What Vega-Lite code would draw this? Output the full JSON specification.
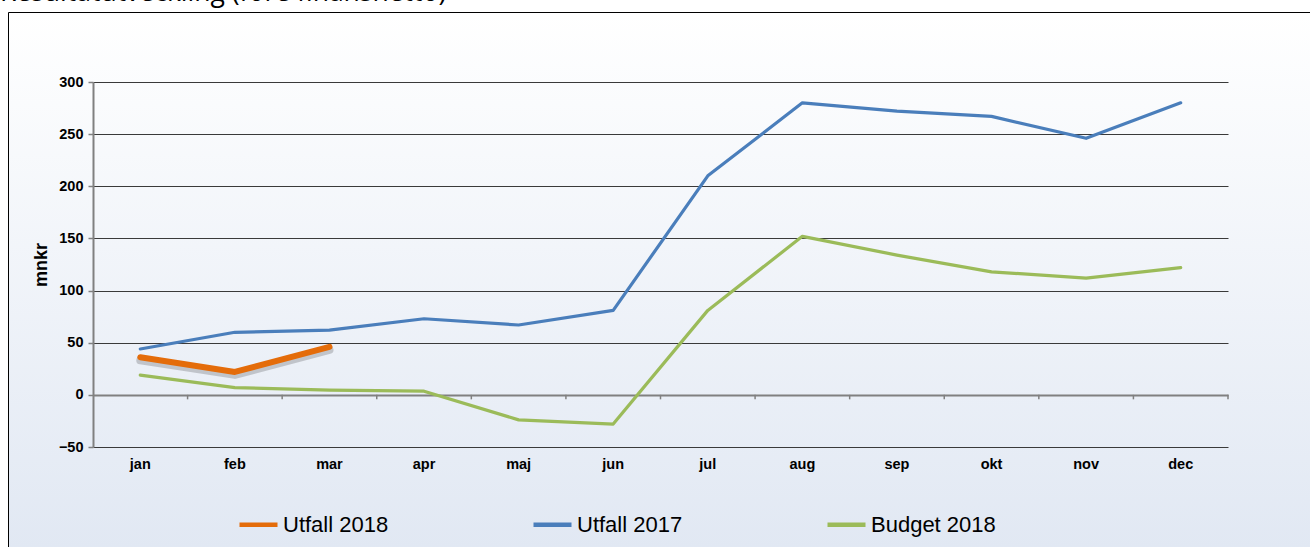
{
  "$schema": "https://vega.github.io/schema/vega-lite/v6.json",
  "autosize": {"type": "none"},
  "width": 1304,
  "height": 537,
  "padding": {"left": 8, "top": 12, "right": 0, "bottom": 0},
  "background": "#ffffff",
  "title": {
    "text": "Resultatutveckling (före finansnetto)",
    "anchor": "start",
    "frame": "group",
    "baseline": "alphabetic",
    "offset": 0,
    "dy": 15,
    "dx": -8,
    "font": "Open Sans",
    "fontSize": 26.5,
    "fontWeight": "normal",
    "color": "#000000"
  },
  "config": {
    "view": {
      "fill": {
        "gradient": "linear",
        "x1": 0, "y1": 0, "x2": 0, "y2": 1,
        "stops": [
          {"offset": 0, "color": "#ffffff"},
          {"offset": 1, "color": "#e1e8f3"}
        ]
      },
      "stroke": "#000000",
      "strokeWidth": 1
    },
    "axis": {
      "labelFont": "Liberation Sans",
      "labelFontWeight": "bold",
      "labelFontSize": 14.5,
      "labelColor": "#000000"
    }
  },
  "datasets": {
    "rows": [
      {"month": "jan", "series": "Utfall 2017", "value": 44},
      {"month": "feb", "series": "Utfall 2017", "value": 60},
      {"month": "mar", "series": "Utfall 2017", "value": 62},
      {"month": "apr", "series": "Utfall 2017", "value": 73},
      {"month": "maj", "series": "Utfall 2017", "value": 67},
      {"month": "jun", "series": "Utfall 2017", "value": 81},
      {"month": "jul", "series": "Utfall 2017", "value": 210},
      {"month": "aug", "series": "Utfall 2017", "value": 280},
      {"month": "sep", "series": "Utfall 2017", "value": 272},
      {"month": "okt", "series": "Utfall 2017", "value": 267},
      {"month": "nov", "series": "Utfall 2017", "value": 246},
      {"month": "dec", "series": "Utfall 2017", "value": 280},
      {"month": "jan", "series": "Budget 2018", "value": 19},
      {"month": "feb", "series": "Budget 2018", "value": 7},
      {"month": "mar", "series": "Budget 2018", "value": 4.5},
      {"month": "apr", "series": "Budget 2018", "value": 3.5},
      {"month": "maj", "series": "Budget 2018", "value": -24},
      {"month": "jun", "series": "Budget 2018", "value": -28},
      {"month": "jul", "series": "Budget 2018", "value": 81},
      {"month": "aug", "series": "Budget 2018", "value": 152},
      {"month": "sep", "series": "Budget 2018", "value": 134},
      {"month": "okt", "series": "Budget 2018", "value": 118},
      {"month": "nov", "series": "Budget 2018", "value": 112},
      {"month": "dec", "series": "Budget 2018", "value": 122},
      {"month": "jan", "series": "Utfall 2018", "value": 36},
      {"month": "feb", "series": "Utfall 2018", "value": 22},
      {"month": "mar", "series": "Utfall 2018", "value": 46}
    ]
  },
  "data": {"name": "rows"},
  "encoding": {
    "x": {
      "field": "month",
      "type": "ordinal",
      "sort": ["jan", "feb", "mar", "apr", "maj", "jun", "jul", "aug", "sep", "okt", "nov", "dec"],
      "scale": {"type": "band", "range": [85, 1220], "paddingInner": 0, "paddingOuter": 0},
      "axis": {
        "orient": "bottom",
        "offset": -102,
        "domain": false,
        "ticks": false,
        "tickSize": 0,
        "labelPadding": 10,
        "labelAngle": 0,
        "grid": false,
        "title": null
      }
    },
    "y": {
      "field": "value",
      "type": "quantitative",
      "scale": {"domain": [-50, 300], "range": [435, 70], "nice": false, "zero": false},
      "axis": {
        "orient": "left",
        "offset": -85,
        "values": [-50, 0, 50, 100, 150, 200, 250, 300],
        "title": "mnkr",
        "titleFont": "Liberation Sans",
        "titleFontSize": 18,
        "titleFontWeight": "bold",
        "titleColor": "#000000",
        "titlePadding": 8,
        "tickSize": 5,
        "tickColor": "#808080",
        "tickWidth": 1.5,
        "domainColor": "#808080",
        "domainWidth": 2,
        "labelPadding": 5,
        "grid": true,
        "gridColor": {"condition": {"test": "datum.value === 0", "value": "#808080"}, "value": "#3a3a3a"},
        "gridWidth": {"condition": {"test": "datum.value === 0", "value": 2}, "value": 1},
        "gridOpacity": 1
      }
    }
  },
  "layer": [
    {
      "transform": [{"filter": "datum.series === 'Utfall 2017'"}],
      "mark": {"type": "rule", "color": "#808080", "strokeWidth": 1.5},
      "encoding": {
        "x": {
          "field": "month",
          "type": "ordinal",
          "bandPosition": 1,
          "sort": ["jan", "feb", "mar", "apr", "maj", "jun", "jul", "aug", "sep", "okt", "nov", "dec"]
        },
        "y": {"datum": 0, "type": "quantitative"},
        "y2": {"datum": -4.3}
      }
    },
    {
      "transform": [{"filter": "datum.series !== 'Utfall 2018'"}],
      "mark": {"type": "line", "strokeWidth": 3.2, "strokeCap": "round", "strokeJoin": "round"},
      "encoding": {
        "color": {
          "field": "series",
          "type": "nominal",
          "scale": {
            "domain": ["Utfall 2018", "Utfall 2017", "Budget 2018"],
            "range": ["#e46c0a", "#4a7ebb", "#9bbb59"]
          },
          "legend": {
            "orient": "none",
            "legendX": 229,
            "legendY": 491,
            "direction": "horizontal",
            "columns": 3,
            "gridAlign": "all",
            "columnPadding": 116,
            "symbolType": "stroke",
            "symbolSize": 1444,
            "symbolStrokeWidth": 4.5,
            "labelFont": "Liberation Sans",
            "labelFontSize": 22,
            "labelFontWeight": "normal",
            "labelOffset": 3,
            "labelColor": "#000000",
            "labelLimit": 0,
            "title": null
          }
        }
      }
    },
    {
      "transform": [{"filter": "datum.series === 'Utfall 2018'"}],
      "mark": {"type": "line", "color": "#000000", "opacity": 0.18, "strokeWidth": 8, "yOffset": 3, "strokeCap": "round", "strokeJoin": "round"}
    },
    {
      "transform": [{"filter": "datum.series === 'Utfall 2018'"}],
      "mark": {"type": "line", "strokeWidth": 6, "strokeCap": "round", "strokeJoin": "round"},
      "encoding": {
        "color": {
          "field": "series",
          "type": "nominal",
          "scale": {
            "domain": ["Utfall 2018", "Utfall 2017", "Budget 2018"],
            "range": ["#e46c0a", "#4a7ebb", "#9bbb59"]
          }
        }
      }
    }
  ]
}
